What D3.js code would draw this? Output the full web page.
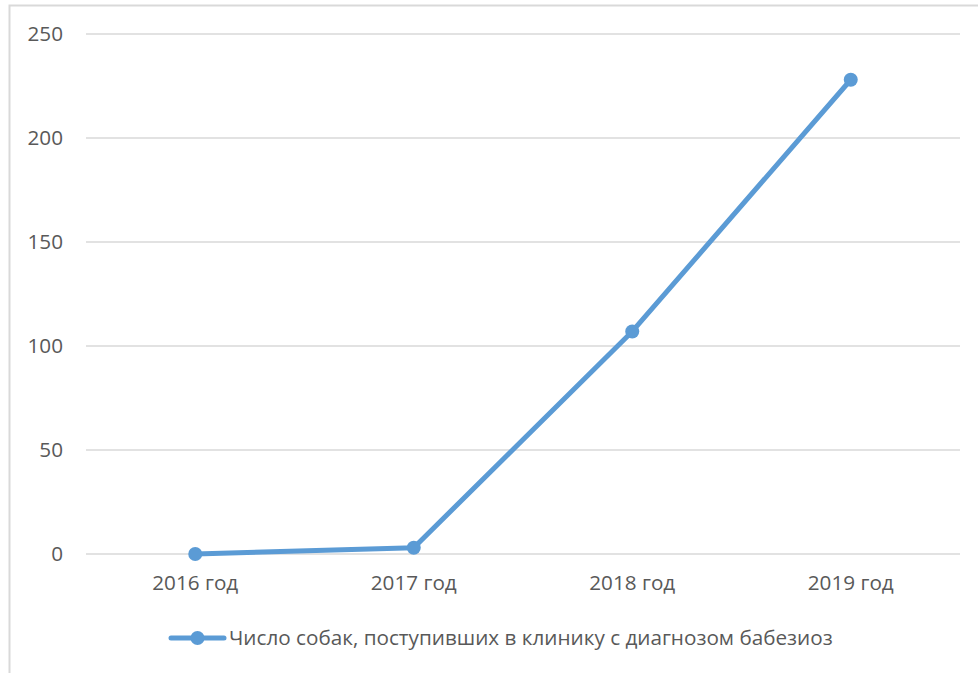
<!DOCTYPE html>
<html><head><meta charset="utf-8">
<script src="https://cdn.jsdelivr.net/npm/d3@7"></script>
<style>body{margin:0;background:#fff}svg{display:block}</style>
</head><body>
<svg id="c" width="978" height="673"></svg>
<script>
const categories = ["2016 год","2017 год","2018 год","2019 год"];
const values = [0, 3, 107, 228];
const yTicks = [0,50,100,150,200,250];
const seriesName = "Число собак, поступивших в клинику с диагнозом бабезиоз";

const svg = d3.select("#c");
const font = "'Open Sans', 'Noto Sans', sans-serif";
const textColor = "#595959";
const lineColor = "#5B9BD5";
const fs = 20.7;

// frame
svg.append("rect").attr("x",9.5).attr("y",5.5).attr("width",990).attr("height",700)
  .attr("fill","none").attr("stroke","#d9d9d9").attr("stroke-width",2);

const m = {left:86, right:960, top:34, bottom:554};
const x = d3.scaleBand().domain(categories).range([m.left, m.right]);
const y = d3.scaleLinear().domain([0,250]).range([m.bottom, m.top]);

// gridlines
svg.append("g").selectAll("line").data(yTicks).join("line")
  .attr("x1",m.left).attr("x2",m.right)
  .attr("y1",d=>y(d)).attr("y2",d=>y(d))
  .attr("stroke","#d9d9d9").attr("stroke-width",1.5);

// y axis labels
const ya = svg.append("g").attr("transform",`translate(63,0)`)
  .call(d3.axisLeft(y).tickValues(yTicks).tickSize(0).tickPadding(0));
ya.select(".domain").remove();
ya.selectAll("text").attr("font-family",font).attr("font-size",fs).attr("fill",textColor);

// x axis labels
const xa = svg.append("g").attr("transform",`translate(0,${m.bottom})`)
  .call(d3.axisBottom(x).tickSize(0).tickPadding(21));
xa.select(".domain").remove();
xa.selectAll("text").attr("font-family",font).attr("font-size",fs).attr("fill",textColor);

const cx = d => x(d) + x.bandwidth()/2;
const pts = categories.map((c,i)=>[cx(c), y(values[i])]);

svg.append("path").attr("d", d3.line()(pts))
  .attr("fill","none").attr("stroke",lineColor).attr("stroke-width",5)
  .attr("stroke-linejoin","round").attr("stroke-linecap","round");

svg.append("g").selectAll("circle").data(pts).join("circle")
  .attr("cx",d=>d[0]).attr("cy",d=>d[1]).attr("r",7).attr("fill",lineColor);

// legend
const ly = 638;
svg.append("line").attr("x1",171).attr("x2",224).attr("y1",ly).attr("y2",ly)
  .attr("stroke",lineColor).attr("stroke-width",5).attr("stroke-linecap","round");
svg.append("circle").attr("cx",197.5).attr("cy",ly).attr("r",7).attr("fill",lineColor);
svg.append("text").attr("x",229).attr("y",ly).attr("dy","0.35em")
  .attr("font-family",font).attr("font-size",fs).attr("fill",textColor).text(seriesName);
</script>
</body></html>
